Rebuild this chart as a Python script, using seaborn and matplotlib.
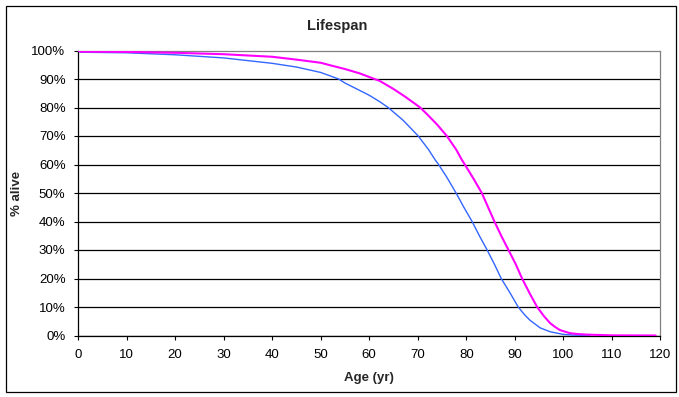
import matplotlib
matplotlib.use("Agg")
import matplotlib.pyplot as plt
from matplotlib.patches import Rectangle
import seaborn as sns
import pandas as pd

# ---- data ----
title = "Lifespan"
x_label = "Age (yr)"
y_label = "% alive"

blue_age = [0, 0.5, 10, 20, 30, 40, 45, 50, 53.7, 55, 60, 62.2, 63.9, 67, 70.1,
            72.2, 73.6, 74.3, 76, 77.9, 79.5, 81.2, 82.7, 84.3, 85.8, 87.2, 89,
            90.7, 92, 93.1, 95.2, 97.3, 100, 102, 105.5]
blue_pct = [100, 99.4, 99.2, 98.5, 97.4, 95.5, 94.2, 92.3, 90, 88.6, 84.3, 82,
            80, 75.5, 70, 65.3, 61.6, 60, 55.5, 50, 45, 40, 35, 30, 25, 20, 15,
            10, 7.3, 5.4, 2.7, 1.3, 0.4, 0.15, 0]

magenta_age = [0, 0.5, 10, 20, 30, 40, 45, 50, 52, 55, 58, 61.1, 62.2, 65,
               67.4, 70.5, 72, 74, 76, 77.9, 79.1, 79.7, 81.5, 83.2, 84.5, 85.8,
               87.2, 88.7, 90.2, 91.5, 93, 94.6, 96, 97.3, 98.3, 99.3, 101.4,
               103, 105, 110, 119]
magenta_pct = [100, 99.6, 99.5, 99.2, 98.7, 97.8, 96.8, 95.7, 94.8, 93.5, 92,
               90, 89.3, 86.5, 83.8, 80, 77.5, 74, 70, 65.3, 61.6, 60, 55, 50,
               45, 40, 35, 30, 25, 20, 15, 10, 6.8, 4.3, 3, 1.9, 0.8, 0.5, 0.3,
               0.05, 0]

x_ticks = list(range(0, 121, 10))
y_ticks = list(range(0, 101, 10))

# ---- styling ----
sns.set_style("white")
plt.rcParams["font.family"] = ["Liberation Sans", "DejaVu Sans"]

W, H = 679, 397
fig = plt.figure(figsize=(W / 100, H / 100), dpi=100)
fig.patch.set_facecolor("white")

left, right, top, bottom = 78, 660.4, 50.5, 335.5
ax = fig.add_axes([left / W, 1 - bottom / H, (right - left) / W, (bottom - top) / H])

df_b = pd.DataFrame({"age": blue_age, "pct": blue_pct})
df_m = pd.DataFrame({"age": magenta_age, "pct": magenta_pct})
sns.lineplot(data=df_b, x="age", y="pct", ax=ax, color="#3366FF", linewidth=1.0,
             estimator=None, sort=False, zorder=3)
sns.lineplot(data=df_m, x="age", y="pct", ax=ax, color="#FF00FF", linewidth=1.5,
             estimator=None, sort=False, zorder=4)

ax.set_xlim(0, 120)
ax.set_ylim(0, 100)
ax.set_xticks(x_ticks)
ax.set_xticklabels([str(t) for t in x_ticks])
ax.set_yticks(y_ticks)
ax.set_yticklabels([f"{t}%" for t in y_ticks])
ax.set_xlabel("")
ax.set_ylabel("")

ax.tick_params(axis="both", direction="out", length=3, width=0.8, color="black",
               labelsize=9.5, labelcolor="black")
ax.tick_params(axis="x", pad=6.5)
ax.tick_params(axis="y", pad=6)
ax.xaxis.set_ticks_position("bottom")
ax.yaxis.set_ticks_position("left")

ax.grid(axis="y", color="black", linewidth=0.9)
ax.grid(axis="x", visible=False)
ax.set_axisbelow(True)
ax.yaxis.get_gridlines()[-1].set_visible(False)

for s in ["left", "bottom"]:
    ax.spines[s].set_color("black")
    ax.spines[s].set_linewidth(0.9)
for s in ["top", "right"]:
    ax.spines[s].set_color("#808080")
    ax.spines[s].set_linewidth(0.9)

fig.text(0.497, 1 - 26 / H, title, ha="center", va="center", fontsize=10.5,
         fontweight="bold")
fig.text(369 / W, 1 - 378 / H, x_label, ha="center", va="center", fontsize=9.5,
         fontweight="bold")
fig.text(17 / W, 1 - 193 / H, y_label, ha="center", va="center", fontsize=9.5,
         fontweight="bold", rotation=90)

fig.add_artist(Rectangle((5.5 / W, 1 - 391.5 / H), 670 / W, 385.8 / H,
                         transform=fig.transFigure, fill=False,
                         edgecolor="black", linewidth=0.9))

fig.savefig("out.png", dpi=100)
